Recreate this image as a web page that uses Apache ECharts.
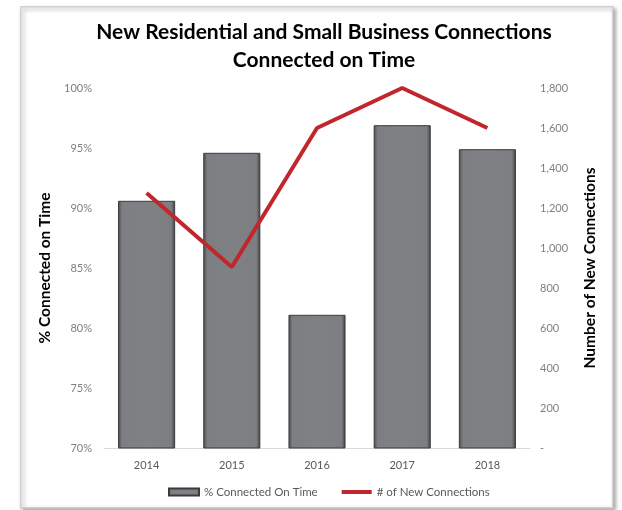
<!DOCTYPE html>
<html><head><meta charset="utf-8">
<script src="https://cdn.jsdelivr.net/npm/echarts@6/dist/echarts.min.js"></script>
<style>html,body{margin:0;padding:0;background:#fff}#c{width:622px;height:510px}</style>
</head><body><div id="c"></div>
<script>
var years = ['2014','2015','2016','2017','2018'];
var pctOnTime = [90.6, 94.6, 81.1, 96.9, 94.9];
var newConnections = [1275, 905, 1600, 1800, 1600];
var pctTicks = [70, 75, 80, 85, 90, 95, 100];
var countTicks = [0, 200, 400, 600, 800, 1000, 1200, 1400, 1600, 1800];

var chart = echarts.init(document.getElementById('c'));
var fontFam = 'Lato, "Open Sans", sans-serif';
chart.setOption({
  animation: false,
  graphic: [{
    type: 'rect', left: 20, top: 6, z: -10,
    shape: {width: 592, height: 501},
    style: {fill: '#fff', stroke: '#d0d0d0', lineWidth: 1.5, shadowBlur: 4, shadowColor: 'rgba(0,0,0,0.35)', shadowOffsetX: 2, shadowOffsetY: 2}
  }],
  title: {
    text: 'New Residential and Small Business Connections\nConnected on Time',
    left: 319, textAlign: 'center', top: 13,
    textStyle: {fontFamily: fontFam, fontWeight: 'bold', fontSize: 21, color: '#000', lineHeight: 28}
  },
  legend: {
    bottom: 7, left: 163, itemWidth: 30, itemHeight: 7, itemGap: 24,
    textStyle: {fontFamily: fontFam, fontSize: 11.5, color: '#595959'},
    data: [{name: '% Connected On Time', icon: 'rect'},
           {name: '# of New Connections', icon: 'path://M0,0H30V4H0Z', itemStyle: {color: '#c0262c'}}]
  },
  grid: {left: 104, right: 92, top: 88, bottom: 62},
  xAxis: {
    type: 'category', data: years,
    axisLine: {lineStyle: {color: '#d9d9d9'}}, axisTick: {show: false},
    axisLabel: {color: '#595959', fontFamily: fontFam, fontSize: 11, margin: 12}
  },
  yAxis: [{
    type: 'value', min: 70, max: 100, interval: 5,
    name: '% Connected on Time', nameLocation: 'middle', nameGap: 48,
    nameTextStyle: {fontFamily: fontFam, fontWeight: 'bold', fontSize: 15.5, color: '#000'},
    axisLine: {show: false}, axisTick: {show: false}, splitLine: {show: false},
    axisLabel: {color: '#7f7f7f', fontFamily: fontFam, fontSize: 11, margin: 12, formatter: function(v){return v + '%';}}
  }, {
    type: 'value', min: 0, max: 1800, interval: 200,
    name: 'Number of New Connections', nameLocation: 'middle', nameGap: 52,
    nameTextStyle: {fontFamily: fontFam, fontWeight: 'bold', fontSize: 15.5, color: '#000'},
    axisLine: {show: false}, axisTick: {show: false}, splitLine: {show: false},
    axisLabel: {color: '#7f7f7f', fontFamily: fontFam, fontSize: 11, margin: 10, align: 'left',
      formatter: function(v){return v === 0 ? '-' : v.toLocaleString('en-US');}}
  }],
  series: [{
    name: '% Connected On Time', type: 'bar', yAxisIndex: 0, data: pctOnTime, barWidth: '67%',
    itemStyle: {
      color: {type: 'linear', x: 0, y: 0, x2: 1, y2: 0, colorStops: [
        {offset: 0, color: '#4a4b4e'}, {offset: 0.07, color: '#7d7e82'}, {offset: 0.5, color: '#808185'},
        {offset: 0.93, color: '#7d7e82'}, {offset: 1, color: '#3f4043'}]},
      borderColor: '#3a3b3d', borderWidth: 1
    }
  }, {
    name: '# of New Connections', type: 'line', yAxisIndex: 1, data: newConnections,
    symbol: 'none', lineStyle: {color: '#c0262c', width: 4}, itemStyle: {color: '#c0262c'}
  }]
});
</script></body></html>
